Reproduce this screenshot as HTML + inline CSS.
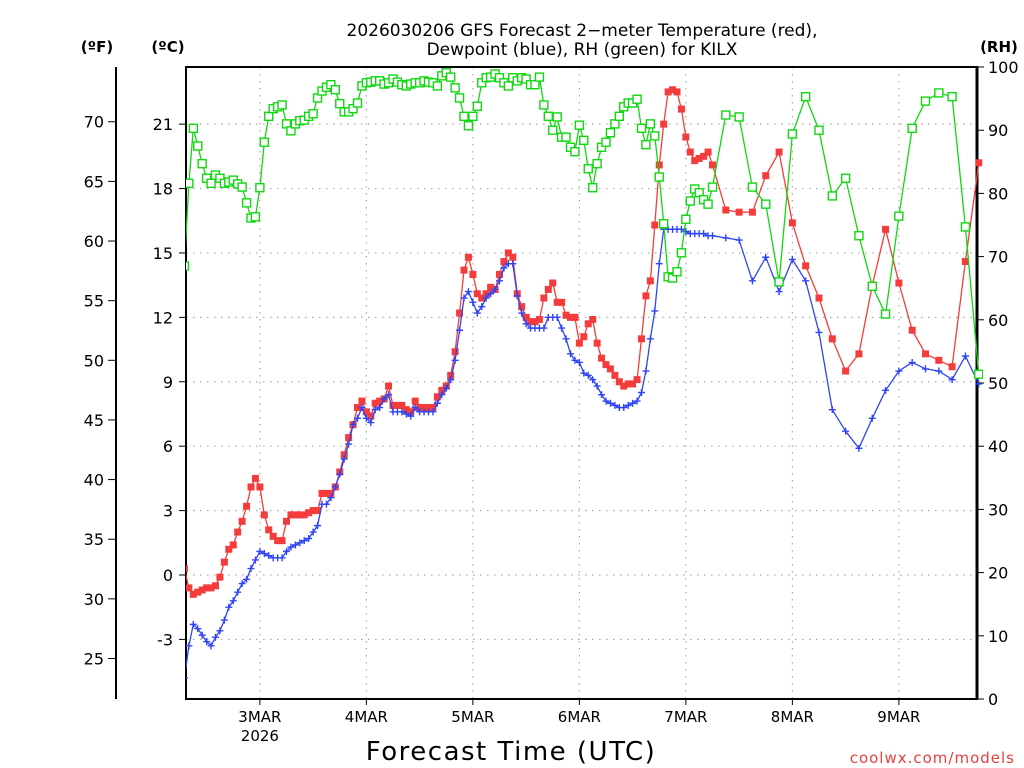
<!DOCTYPE html>
<html><head><meta charset="utf-8"><style>
html,body{margin:0;padding:0;background:#fff;}
svg{display:block;font-family:"DejaVu Sans","Liberation Sans",sans-serif;}
</style></head><body>
<svg id="chart" width="1024" height="768" viewBox="0 0 1024 768">
<text x="582" y="36" text-anchor="middle" font-size="17">2026030206 GFS Forecast 2−meter Temperature (red),</text>
<text x="582" y="55" text-anchor="middle" font-size="17">Dewpoint (blue), RH (green) for KILX</text>
<text x="97" y="52" text-anchor="middle" font-size="15" font-weight="bold">(ºF)</text>
<text x="168" y="52" text-anchor="middle" font-size="15" font-weight="bold">(ºC)</text>
<text x="999" y="52" text-anchor="middle" font-size="15" font-weight="bold">(RH)</text>
<text x="511" y="760" text-anchor="middle" font-size="26" letter-spacing="1.5">Forecast Time (UTC)</text>
<text x="1015" y="763" text-anchor="end" font-size="15" fill="#e8403c" letter-spacing="1">coolwx.com/models</text>
<g id="grid"></g><g id="axes"></g><g id="series"></g>
</svg>
<script>
const dayLabels = ["3MAR","4MAR","5MAR","6MAR","7MAR","8MAR","9MAR"];
const dayHours = [18,42,66,90,114,138,162];
const cTicks = [-3,0,3,6,9,12,15,18,21];
const fTicks = [25,30,35,40,45,50,55,60,65,70];
const rhTicks = [0,10,20,30,40,50,60,70,80,90,100];
const hoursHourly = Array.from({length:120},(_,i)=>i+1);
const hours3h = [123,126,129,132,135,138,141,144,147,150,153,156,159,162,165,168,171,174,177,180];
const tempC = [0.3,-0.6,-0.9,-0.8,-0.7,-0.6,-0.6,-0.5,-0.1,0.6,
1.2,1.4,2.0,2.5,3.2,4.1,4.5,4.1,2.8,2.1,
1.8,1.6,1.6,2.5,2.8,2.8,2.8,2.8,2.9,3.0,
3.0,3.8,3.8,3.8,4.1,4.8,5.6,6.4,7.0,7.8,
8.1,7.6,7.4,8.0,8.1,8.2,8.8,7.9,7.9,7.9,
7.7,7.6,8.1,7.8,7.8,7.8,7.8,8.3,8.6,8.8,
9.3,10.4,12.2,14.2,14.8,14.0,13.1,12.9,13.1,13.4,
13.3,14.0,14.6,15.0,14.8,13.1,12.5,12.0,11.8,11.8,
11.9,12.9,13.3,13.6,12.7,12.7,12.1,12.0,12.0,10.8,
11.1,11.7,11.9,10.8,10.1,9.8,9.6,9.3,9.0,8.8,
8.9,8.9,9.1,11.0,13.0,13.7,16.3,19.1,21.0,22.5,
22.6,22.5,21.7,20.4,19.7,19.3,19.4,19.5,19.7,19.1,
17.0,16.9,16.9,18.6,19.7,16.4,14.4,12.9,11.0,9.5,10.3,13.5,16.1,13.6,11.4,10.3,10.0,9.7,14.6,19.2];
const dewC = [-4.8,-3.3,-2.3,-2.5,-2.8,-3.1,-3.3,-2.9,-2.6,-2.1,
-1.5,-1.2,-0.8,-0.4,-0.2,0.3,0.7,1.1,1.0,0.9,
0.8,0.8,0.8,1.1,1.3,1.4,1.5,1.6,1.7,2.0,
2.3,3.3,3.3,3.6,4.1,4.7,5.4,6.1,7.0,7.3,
7.8,7.3,7.1,7.7,7.8,8.2,8.4,7.6,7.6,7.6,
7.5,7.4,7.8,7.6,7.6,7.6,7.6,8.0,8.4,8.7,
9.1,10.0,11.4,12.9,13.2,12.7,12.2,12.5,12.9,13.1,
13.3,13.7,14.3,14.5,14.5,13.0,12.2,11.7,11.5,11.5,
11.5,11.5,12.0,12.0,12.0,11.5,11.0,10.3,10.0,9.9,
9.4,9.3,9.1,8.8,8.4,8.1,8.0,7.9,7.8,7.8,
7.9,8.0,8.1,8.5,9.5,11.0,12.3,14.5,16.1,16.1,
16.1,16.1,16.1,16.0,15.9,15.9,15.9,15.9,15.8,15.8,
15.7,15.6,13.7,14.8,13.2,14.7,13.7,11.3,7.7,6.7,5.9,7.3,8.6,9.5,9.9,9.6,9.5,9.1,10.2,8.9];
const rhPct = [68.5,81.6,90.3,87.5,84.7,82.4,81.6,82.9,82.4,81.6,
81.8,82.1,81.5,81.0,78.5,76.1,76.3,80.9,88.1,92.2,
93.4,93.7,94.0,91.0,89.9,91.0,91.5,91.6,92.2,92.6,
95.1,96.2,96.8,97.2,96.4,94.2,92.9,92.9,93.4,94.3,
97.0,97.5,97.6,97.8,97.8,97.3,97.5,98.1,97.6,97.2,
97.0,97.3,97.5,97.5,97.8,97.6,97.5,97.0,98.6,99.1,
98.4,96.7,95.1,92.2,90.7,92.2,93.8,97.5,98.3,98.4,
98.9,98.3,97.5,97.0,98.3,97.8,98.3,98.1,97.2,97.2,
98.4,94.0,92.2,90.0,92.1,88.9,88.9,87.3,86.6,90.8,
88.4,83.9,80.9,84.7,87.3,88.1,89.6,91.0,92.2,93.7,
94.3,94.3,94.9,90.3,87.7,91.0,89.1,82.6,75.2,66.8,
66.6,67.6,70.6,75.9,78.8,80.7,80.1,79.0,78.3,81.0,
92.4,92.1,81.0,78.3,66.0,89.4,95.3,90.0,79.6,82.4,73.3,65.3,60.9,76.4,90.3,94.6,95.9,95.3,74.7,51.4];

const NS="http://www.w3.org/2000/svg";
const L=186,R=977,T=67,B=699;
const hours = hoursHourly.concat(hours3h);
function xS(h){return 180+h*4.4375;}
function yC(c){return 575-c*21.47;}
function yF(f){return yC((f-32)*5/9);}
function yRH(r){return B-r*(B-T)/100;}
function mk(tag,attrs,parent){const e=document.createElementNS(NS,tag);for(const k in attrs)e.setAttribute(k,attrs[k]);parent.appendChild(e);return e;}
const grid=document.getElementById('grid'),axes=document.getElementById('axes'),ser=document.getElementById('series');

dayHours.forEach((h,i)=>{
  const x=xS(h);
  const g=mk('line',{x1:x,x2:x,y1:T,y2:B,stroke:'#aaa','stroke-width':1.2,'stroke-dasharray':'1.5,5.5'},grid);
  
  
  const tk=mk('line',{x1:x,x2:x,y1:B,y2:B+6,stroke:'#000','stroke-width':1},axes);
  
  
  const t=mk('text',{x:x,y:722,'text-anchor':'middle','font-size':15},axes);
  t.textContent=dayLabels[i];
  
  
});
const yr=mk('text',{x:xS(dayHours[0]),y:741,'text-anchor':'middle','font-size':15},axes);
yr.textContent='2026';



cTicks.forEach(c=>{
  const y=yC(c);
  const g=mk('line',{x1:L,x2:R,y1:y,y2:y,stroke:'#aaa','stroke-width':1.2,'stroke-dasharray':'1.5,5.5'},grid);
  
  
  const tk=mk('line',{x1:L-7,x2:L,y1:y,y2:y,stroke:'#000'},axes);
  
  
  const t=mk('text',{x:173,y:y+6,'text-anchor':'end','font-size':16},axes);
  t.textContent=String(c);
  
  
});
fTicks.forEach(f=>{
  const y=yF(f);
  const tk=mk('line',{x1:108,x2:116,y1:y,y2:y,stroke:'#000'},axes);
  
  
  const t=mk('text',{x:104,y:y+6,'text-anchor':'end','font-size':16},axes);
  t.textContent=String(f);
  
  
});
rhTicks.forEach(r=>{
  const y=yRH(r);
  const tk=mk('line',{x1:R,x2:R+7,y1:y,y2:y,stroke:'#000'},axes);
  
  
  const t=mk('text',{x:988,y:y+6,'text-anchor':'start','font-size':16},axes);
  t.textContent=String(r);
  
  
});
const fa=mk('line',{x1:116,x2:116,y1:T,y2:B,stroke:'#000','stroke-width':2},axes);


const fr=mk('rect',{x:L,y:T,width:R-L,height:B-T,fill:'none',stroke:'#000','stroke-width':2},axes);


const ra=mk('line',{x1:R,x2:R,y1:T,y2:B,stroke:'#000','stroke-width':3},axes);



mk('clipPath',{id:'pc'},ser).appendChild(document.createElementNS(NS,'rect'));
const cr=ser.querySelector('#pc rect');cr.setAttribute('x',L);cr.setAttribute('y',T-6);cr.setAttribute('width',R-L+6);cr.setAttribute('height',B-T+6);

function drawSeries(vals,yfn,color,kind,name){
  const g=mk('g',{'clip-path':'url(#pc)'},ser);
  
  
  const pts=vals.map((v,i)=>[xS(hours[i]),yfn(v)]);
  const p=mk('polyline',{points:pts.map(q=>q[0].toFixed(1)+','+q[1].toFixed(1)).join(' '),fill:'none',stroke:color,'stroke-width':1.3},g);
  
  
  pts.forEach(([x,y])=>{
    let m;
    if(kind==='fill'){m=mk('rect',{x:x-3.5,y:y-3.5,width:7,height:7,fill:color},g);}
    else if(kind==='plus'){m=mk('path',{d:`M${x-3.5},${y}H${x+3.5}M${x},${y-3.5}V${y+3.5}`,stroke:color,'stroke-width':1.4,fill:'none'},g);}
    else {m=mk('rect',{x:x-4,y:y-4,width:8,height:8,fill:'#fff',stroke:color,'stroke-width':1.4},g);}
    
    
  });
}
drawSeries(tempC,yC,'#f53c3c','fill','temperature');
drawSeries(dewC,yC,'#2f45f5','plus','dewpoint');
drawSeries(rhPct,yRH,'#10d810','hollow','relative-humidity');
</script>
</body></html>
